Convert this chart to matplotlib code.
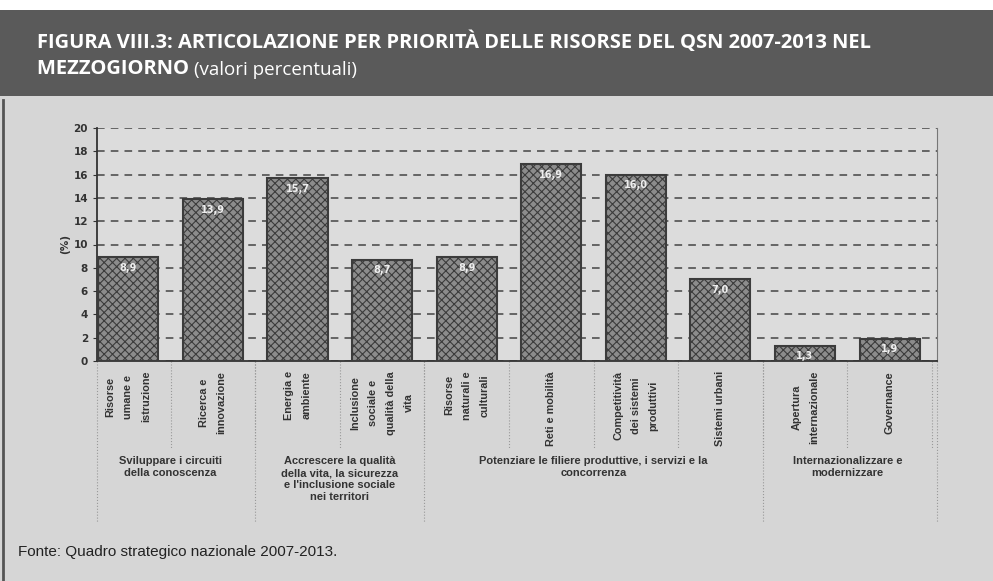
import numpy as np
import matplotlib.pyplot as plt
from matplotlib.patches import Rectangle
import matplotlib.transforms as mtransforms

# Values (percent of QSN resources, Mezzogiorno)
categories = [
    "Risorse\numane e\nistruzione",
    "Ricerca e\ninnovazione",
    "Energia e\nambiente",
    "Inclusione\nsociale e\nqualità della\nvita",
    "Risorse\nnaturali e\nculturali",
    "Reti e mobilità",
    "Competitività\ndei sistemi\nproduttivi",
    "Sistemi urbani",
    "Apertura\ninternazionale",
    "Governance",
]
values = [8.9, 13.9, 15.7, 8.7, 8.9, 16.9, 16.0, 7.0, 1.3, 1.9]

groups = [
    "Sviluppare i circuiti\ndella conoscenza",
    "Accrescere la qualità\ndella vita, la sicurezza\ne l'inclusione sociale\nnei territori",
    "Potenziare le filiere produttive, i servizi e la\nconcorrenza",
    "Internazionalizzare e\nmodernizzare",
]
group_sizes = [2, 2, 4, 2]
yticks = list(range(0, 21, 2))

title_line1 = "FIGURA VIII.3: ARTICOLAZIONE PER PRIORITÀ DELLE RISORSE DEL QSN 2007-2013 NEL"
title_line2a = "MEZZOGIORNO "
title_line2b = "(valori percentuali)"
source = "Fonte: Quadro strategico nazionale 2007-2013."


def main():
    W, H = 993, 581
    fig = plt.figure(figsize=(W / 100, H / 100), dpi=100)
    fig.patch.set_facecolor("white")

    # background / decoration layer in pixel coordinates
    bg = fig.add_axes([0, 0, 1, 1])
    bg.set_xlim(0, W)
    bg.set_ylim(H, 0)
    bg.axis("off")
    bg.add_patch(Rectangle((0, 95), W, H - 95, facecolor="#d6d6d6", edgecolor="none"))
    bg.add_patch(Rectangle((0, 10), W, 86, facecolor="#5a5a5a", edgecolor="none"))
    bg.plot([3, 3], [100, H], color="#555555", lw=2)

    bg.text(37, 48, title_line1, color="white", fontsize=14.5, fontweight="bold",
            family="Open Sans", va="baseline", ha="left", fontstretch="expanded")
    t2 = bg.text(37, 74, title_line2a, color="white", fontsize=14.5, fontweight="bold",
                 family="Open Sans", va="baseline", ha="left")
    bg.annotate(title_line2b, xy=(1, 0), xycoords=t2, va="bottom", ha="left",
                color="white", fontsize=13.5, family="Open Sans")
    bg.text(18, 552, source, color="#222222", fontsize=11, family="Liberation Sans",
            va="center", ha="left")

    # chart
    ax = fig.add_axes([97 / W, 1 - 361 / H, 840 / W, 233 / H])
    ax.set_facecolor("#dcdcdc")
    x = np.arange(len(values))
    plt.rcParams["hatch.color"] = "#3c3c3c"
    plt.rcParams["hatch.linewidth"] = 0.8
    ax.bar(x, values, width=0.71, color="#8c8c8c", edgecolor="#3c3c3c",
           hatch="xxxx", linewidth=1.5, zorder=3)
    for xi, v in zip(x, values):
        ax.text(xi, v - 0.9, f"{v:.1f}".replace(".", ","), ha="center", va="center",
                color="#eeeeee", fontsize=7, fontweight="bold", zorder=4)

    ax.set_xlim(-0.37, 9.56)
    ax.set_ylim(0, 20)
    ax.set_yticks(yticks)
    ax.set_yticklabels([str(t) for t in yticks], fontsize=7.5, fontweight="bold",
                       color="#333333")
    ax.tick_params(axis="y", length=3, color="#333333")
    ax.set_xticks([])
    ax.yaxis.grid(True, linestyle=(0, (5, 4)), color="#444444", linewidth=1.1)
    ax.set_axisbelow(True)
    ax.spines["top"].set_visible(False)
    ax.spines["right"].set_color("#777777")
    ax.spines["left"].set_color("#333333")
    ax.spines["left"].set_linewidth(1.3)
    ax.spines["bottom"].set_color("#333333")
    ax.spines["bottom"].set_linewidth(1.3)
    ax.set_ylabel("(%)", fontsize=7.5, fontweight="bold", color="#333333", labelpad=2)

    # multi-level category axis below the plot
    trans = mtransforms.blended_transform_factory(ax.transData, bg.transData)
    for xi, lab in zip(x, categories):
        ax.text(xi, 371, lab, transform=trans, rotation=90, ha="center", va="top",
                multialignment="center", fontsize=7.8, fontweight="bold",
                family="Liberation Sans", color="#333333", linespacing=1.95)
        ax.plot([xi + 0.5, xi + 0.5], [361, 448], transform=trans, clip_on=False,
                color="#999999", lw=0.8, ls=":")
    start = 0
    for g, n in zip(groups, group_sizes):
        cx = start + (n - 1) / 2
        ax.text(cx, 456, g, transform=trans, ha="center", va="top", fontsize=8,
                fontweight="bold", family="Liberation Sans", color="#333333",
                linespacing=1.25)
        if start > 0:
            ax.plot([start - 0.5, start - 0.5], [361, 522], transform=trans,
                    clip_on=False, color="#999999", lw=0.8, ls=":")
        start += n
    ax.plot([-0.37, -0.37], [361, 522], transform=trans, clip_on=False,
            color="#999999", lw=0.8, ls=":")
    ax.plot([9.56, 9.56], [361, 522], transform=trans, clip_on=False,
            color="#999999", lw=0.8, ls=":")

    fig.savefig("out.png", dpi=100)


if __name__ == "__main__":
    main()
